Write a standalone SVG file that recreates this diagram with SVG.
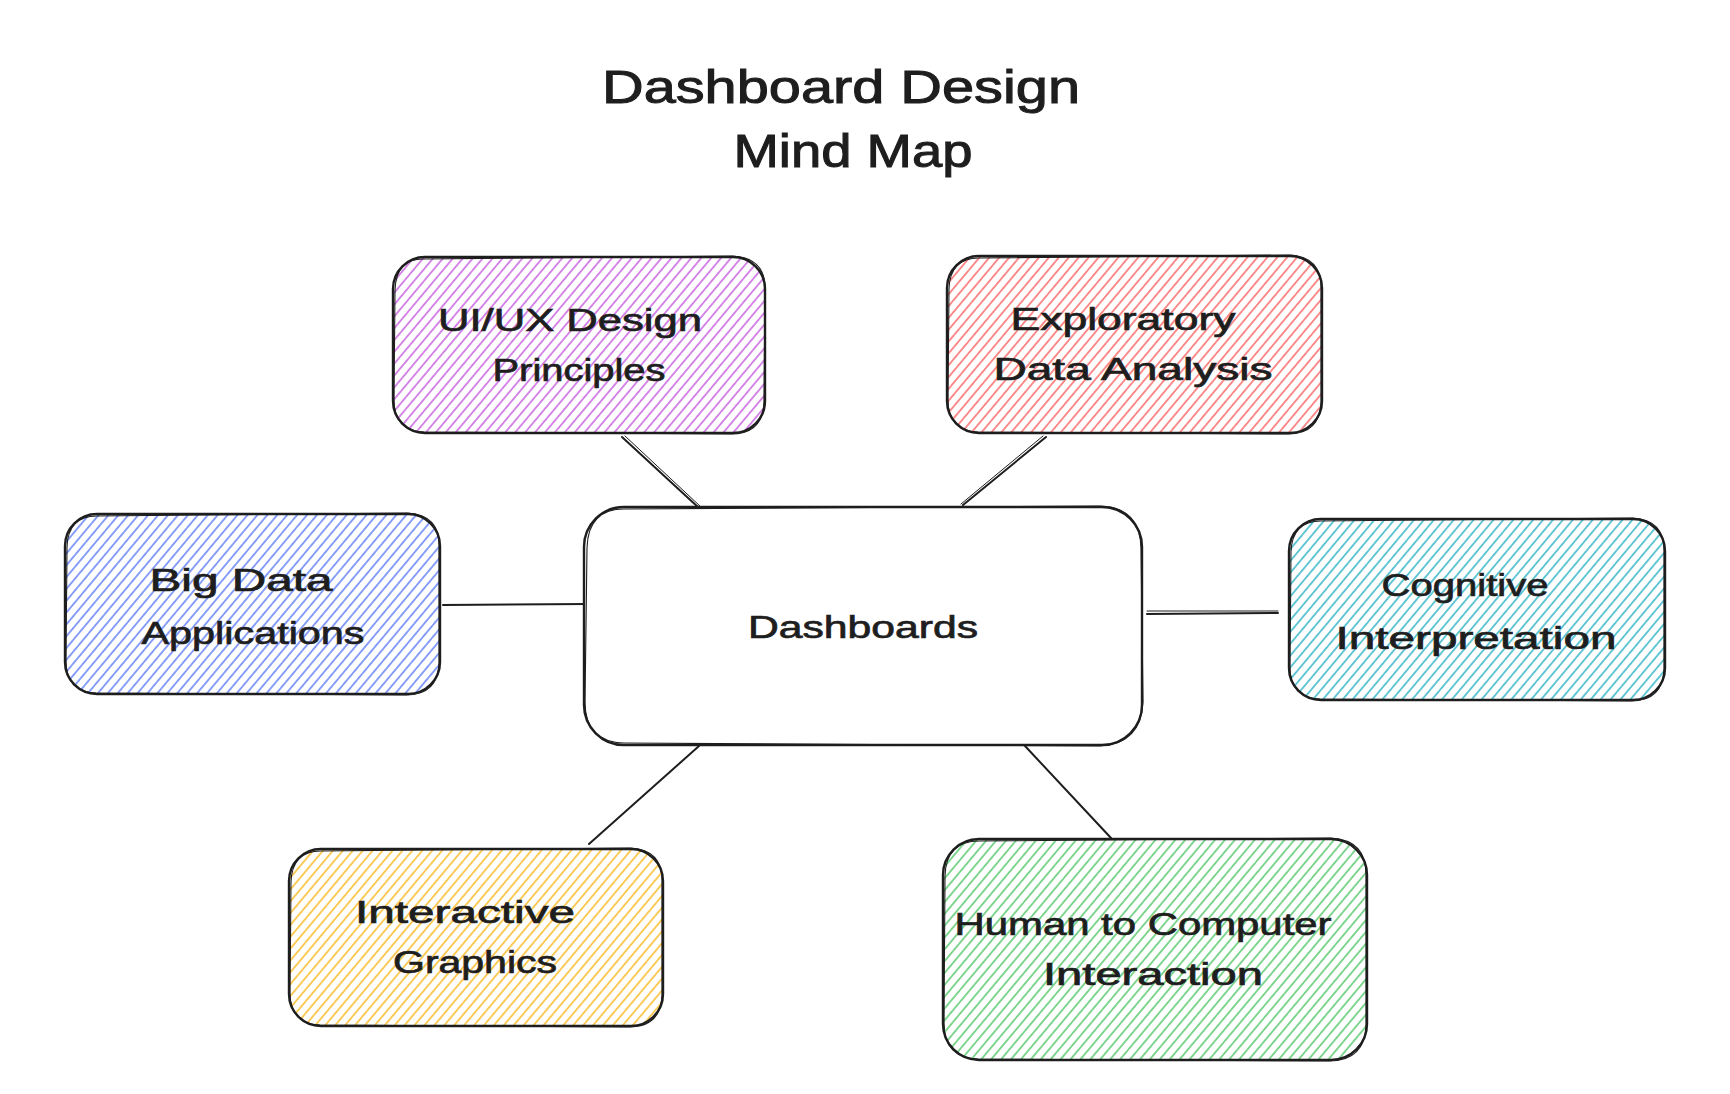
<svg xmlns="http://www.w3.org/2000/svg" width="1730" height="1094" viewBox="0 0 1730 1094">
<style>
.txt{font-family:"Liberation Sans","DejaVu Sans",sans-serif;fill:#1e1e1e;stroke:#1e1e1e;stroke-width:0.7;text-anchor:middle}
.lbl{font-size:31px}
.ttl{font-size:46px;stroke-width:1}
.box{stroke:#1e1e1e;stroke-width:2.4;}
.box2{fill:none;stroke:#1e1e1e;stroke-width:1.1;}
.conn{stroke:#1e1e1e;stroke-width:2;fill:none;stroke-linecap:round}
.conn2{stroke:#1e1e1e;stroke-width:1;fill:none;stroke-linecap:round}
</style>
<defs>
<pattern id="hV" patternUnits="userSpaceOnUse" width="20" height="7.6" patternTransform="rotate(-50)"><line x1="0" y1="3.8" x2="20" y2="3.8" stroke="#be4bdb" stroke-width="1.3"/></pattern>
<pattern id="hR" patternUnits="userSpaceOnUse" width="20" height="7.6" patternTransform="rotate(-50)"><line x1="0" y1="3.8" x2="20" y2="3.8" stroke="#fa5252" stroke-width="1.3"/></pattern>
<pattern id="hB" patternUnits="userSpaceOnUse" width="20" height="7.6" patternTransform="rotate(-50)"><line x1="0" y1="3.8" x2="20" y2="3.8" stroke="#4c6ef5" stroke-width="1.3"/></pattern>
<pattern id="hC" patternUnits="userSpaceOnUse" width="20" height="7.6" patternTransform="rotate(-50)"><line x1="0" y1="3.8" x2="20" y2="3.8" stroke="#15aabf" stroke-width="1.3"/></pattern>
<pattern id="hY" patternUnits="userSpaceOnUse" width="20" height="7.6" patternTransform="rotate(-50)"><line x1="0" y1="3.8" x2="20" y2="3.8" stroke="#fab005" stroke-width="1.3"/></pattern>
<pattern id="hG" patternUnits="userSpaceOnUse" width="20" height="7.6" patternTransform="rotate(-50)"><line x1="0" y1="3.8" x2="20" y2="3.8" stroke="#40c057" stroke-width="1.3"/></pattern>
</defs>
<rect width="1730" height="1094" fill="#ffffff"/>

<g id="title">
<text class="txt ttl" x="841" y="103" textLength="478" lengthAdjust="spacingAndGlyphs">Dashboard Design</text>
<text class="txt ttl" x="853" y="167" textLength="239" lengthAdjust="spacingAndGlyphs">Mind Map</text>
</g>

<g id="connectors">
<path class="conn" d="M622 437 L699 508"/><path class="conn2" d="M625 436 L701 507"/>
<path class="conn" d="M1046 437 L963 505"/><path class="conn2" d="M1043 436 L961 504"/>
<path class="conn" d="M443 605 L589 604"/>
<path class="conn" d="M1147 614 L1278 613"/><path class="conn2" d="M1147 611 L1278 611"/>
<path class="conn" d="M699 746 L589 844"/>
<path class="conn" d="M1025 746 L1111 838"/>
</g>

<g id="node-center">
<rect class="box" x="584" y="507" width="558" height="238" rx="40" fill="#ffffff"/>
<path class="box2" d="M626 509 L1100 506 Q1140 507 1141 548 L1143 702 Q1141 744 1100 746 L624 743 Q585 742 585 702 L587 548 Q588 508 626 509 Z"/>
<text class="txt lbl" x="863" y="638" textLength="230" lengthAdjust="spacingAndGlyphs">Dashboards</text>
</g>

<g id="node-uiux">
<rect class="box" x="393" y="257" width="372" height="176" rx="32" fill="url(#hV)"/>
<path class="box2" d="M425 259 L733 256 Q766 258 765 290 L764 402 Q763 434 731 434 L424 432 Q394 431 394 400 L395 290 Q396 258 425 259 Z"/>
<text class="txt lbl" x="570" y="331" textLength="264" lengthAdjust="spacingAndGlyphs">UI/UX Design</text>
<text class="txt lbl" x="579" y="381" textLength="173" lengthAdjust="spacingAndGlyphs">Principles</text>
</g>

<g id="node-eda">
<rect class="box" x="947" y="256" width="375" height="177" rx="32" fill="url(#hR)"/>
<path class="box2" d="M979 258 L1290 255 Q1322 257 1321 289 L1321 402 Q1320 434 1288 434 L978 432 Q948 431 948 400 L949 289 Q950 258 979 258 Z"/>
<text class="txt lbl" x="1123" y="330" textLength="225" lengthAdjust="spacingAndGlyphs">Exploratory</text>
<text class="txt lbl" x="1133" y="380" textLength="279" lengthAdjust="spacingAndGlyphs">Data Analysis</text>
</g>

<g id="node-bigdata">
<rect class="box" x="65" y="514" width="375" height="180" rx="32" fill="url(#hB)"/>
<path class="box2" d="M97 516 L408 513 Q440 515 439 547 L439 663 Q438 695 406 695 L96 693 Q66 692 66 661 L67 547 Q68 516 97 516 Z"/>
<text class="txt lbl" x="241" y="591" textLength="183" lengthAdjust="spacingAndGlyphs">Big Data</text>
<text class="txt lbl" x="253" y="644" textLength="223" lengthAdjust="spacingAndGlyphs">Applications</text>
</g>

<g id="node-cognitive">
<rect class="box" x="1289" y="519" width="376" height="181" rx="32" fill="url(#hC)"/>
<path class="box2" d="M1321 521 L1633 518 Q1665 520 1664 552 L1664 669 Q1663 701 1631 701 L1320 699 Q1290 698 1290 667 L1291 552 Q1292 521 1321 521 Z"/>
<text class="txt lbl" x="1465" y="596" textLength="167" lengthAdjust="spacingAndGlyphs">Cognitive</text>
<text class="txt lbl" x="1476" y="649" textLength="281" lengthAdjust="spacingAndGlyphs">Interpretation</text>
</g>

<g id="node-interactive">
<rect class="box" x="289" y="849" width="374" height="177" rx="32" fill="url(#hY)"/>
<path class="box2" d="M321 851 L631 848 Q663 850 662 882 L662 995 Q661 1027 629 1027 L320 1025 Q290 1024 290 993 L291 882 Q292 851 321 851 Z"/>
<text class="txt lbl" x="465" y="923" textLength="220" lengthAdjust="spacingAndGlyphs">Interactive</text>
<text class="txt lbl" x="475" y="973" textLength="164" lengthAdjust="spacingAndGlyphs">Graphics</text>
</g>

<g id="node-hci">
<rect class="box" x="943" y="839" width="424" height="221" rx="36" fill="url(#hG)"/>
<path class="box2" d="M979 841 L1331 838 Q1367 840 1366 876 L1366 1025 Q1365 1061 1329 1061 L978 1059 Q944 1058 944 1023 L945 876 Q946 841 979 841 Z"/>
<text class="txt lbl" x="1143" y="935" textLength="377" lengthAdjust="spacingAndGlyphs">Human to Computer</text>
<text class="txt lbl" x="1153" y="985" textLength="220" lengthAdjust="spacingAndGlyphs">Interaction</text>
</g>
</svg>
